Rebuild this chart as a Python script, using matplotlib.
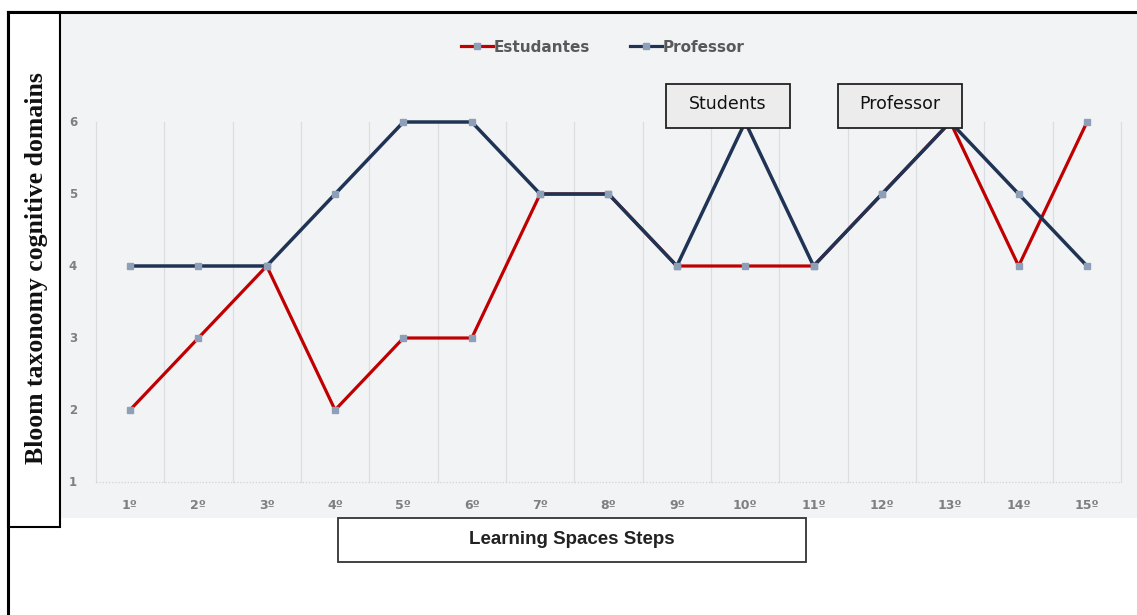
import matplotlib
matplotlib.use("Agg")
import matplotlib.pyplot as plt
from matplotlib.lines import Line2D
from matplotlib.patches import Rectangle

# Data
steps = ["1º", "2º", "3º", "4º", "5º", "6º", "7º", "8º", "9º", "10º", "11º", "12º", "13º", "14º", "15º"]
estudantes = [2, 3, 4, 2, 3, 3, 5, 5, 4, 4, 4, 5, 6, 4, 6]
professor = [4, 4, 4, 5, 6, 6, 5, 5, 4, 6, 4, 5, 6, 5, 4]
y_ticks = [1, 2, 3, 4, 5, 6]
series_names = ["Estudantes", "Professor"]

W, H = 1137, 615
fig = plt.figure(figsize=(W / 100, H / 100), dpi=100)
fig.patch.set_facecolor("white")


def px_rect(x0, y0, x1, y1):
    return [x0 / W, 1 - y1 / H, (x1 - x0) / W, (y1 - y0) / H]


# Plot area
ax = fig.add_axes(px_rect(60, 14, W, 518))
ax.set_facecolor("#f2f3f5")
for s in ax.spines.values():
    s.set_visible(False)
ax.set_xticks([])
ax.set_yticks([])

x = list(range(1, len(steps) + 1))
ax.set_xlim(1 - 70 / 68.36, 15 + 50 / 68.36)
ax.set_ylim(0.5, 7.5)

# Category separators and baseline
for b in range(len(steps) + 1):
    ax.plot([b + 0.5, b + 0.5], [1, 6], color="#dcdde0", lw=0.9, zorder=1)
ax.plot([0.5, len(steps) + 0.5], [1, 1], color="#d0d2d6", lw=0.9, ls=(0, (1, 1.5)), zorder=1)

red = "#c00000"
navy = "#1f3354"
mk = "#8da0b8"
ax.plot(x, estudantes, color=red, lw=2.3, marker="s", ms=4, mfc=mk, mec=mk, zorder=3)
ax.plot(x, professor, color=navy, lw=2.5, marker="s", ms=4, mfc=mk, mec=mk, zorder=4)

# Tick labels
for v in y_ticks:
    ax.text(0.166, v, str(v), ha="center", va="center", fontsize=8.5,
            color="#7f7f7f", fontweight="bold")
for xi, lab in zip(x, steps):
    ax.text(xi, 0.68, lab, ha="center", va="center", fontsize=9,
            color="#7f7f7f", fontweight="bold")

# Legend
handles = [
    Line2D([0], [0], color=red, lw=2.3, marker="s", ms=4, mfc=mk, mec=mk),
    Line2D([0], [0], color=navy, lw=2.3, marker="s", ms=4, mfc=mk, mec=mk),
]
leg = fig.legend(handles, series_names, loc="center", bbox_to_anchor=(603 / W, 1 - 47 / H),
                 ncol=2, frameon=False, handlelength=2.1, handletextpad=0.05,
                 columnspacing=2.6, prop={"weight": "bold", "size": 11})
for t in leg.get_texts():
    t.set_color("#595959")

# Overlay for frames and text boxes in pixel coordinates
ov = fig.add_axes([0, 0, 1, 1], facecolor="none")
ov.set_xlim(0, W)
ov.set_ylim(H, 0)
ov.axis("off")

ov.plot([8, W], [12, 12], color="black", lw=2.2)
ov.plot([8, 8], [12, H], color="black", lw=2.2)
ov.add_patch(Rectangle((8, 12), 52, 515, facecolor="white", edgecolor="black", lw=1.5, zorder=0.5))
ov.text(37, 268, "Bloom taxonomy cognitive domains", rotation=90, ha="center", va="center",
        fontsize=18.5, fontweight="bold", family="Liberation Serif", color="#111111")

ov.add_patch(Rectangle((338, 518), 468, 44, facecolor="white", edgecolor="#333333", lw=1.3))
ov.text(572, 540, "Learning Spaces Steps", ha="center", va="center", fontsize=13.5,
        fontweight="bold", family="Liberation Sans", color="#222222")

for (x0, label) in [(666, "Students"), (838, "Professor")]:
    ov.add_patch(Rectangle((x0, 84), 124, 44, facecolor="#ececec", edgecolor="#222222", lw=1.3, zorder=5))
    ov.text(x0 + 62, 104, label, ha="center", va="center", fontsize=12.5,
            family="DejaVu Sans", color="#111111", zorder=6)

fig.savefig("out.png", dpi=100)
